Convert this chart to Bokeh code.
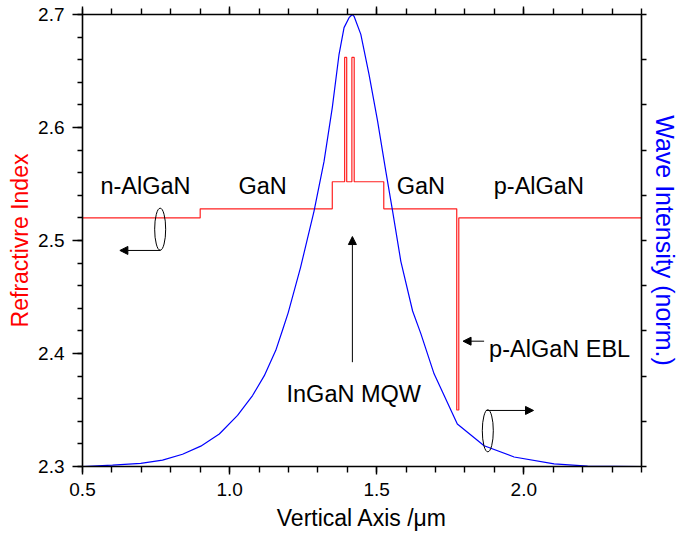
from bokeh.plotting import figure
from bokeh.models import (Range1d, LinearAxis, SingleIntervalTicker, FixedTicker,
                          NumeralTickFormatter, Arrow, NormalHead)
from bokeh.embed import file_html
from bokeh.resources import INLINE
from bokeh.core.properties import value

# ---------------- data ----------------
# refractive index layers: start, end, index
layer_start = [0.5, 0.9, 1.349, 1.391, 1.398, 1.4156, 1.4235, 1.524, 1.772, 1.779]
layer_end   = [0.9, 1.349, 1.391, 1.398, 1.4156, 1.4235, 1.524, 1.772, 1.779, 2.4]
layer_n     = [2.52, 2.528, 2.552, 2.662, 2.552, 2.662, 2.552, 2.528, 2.35, 2.52]

# normalized optical wave intensity
wave_x = [0.5, 0.602, 0.698, 0.772, 0.840, 0.902, 0.965, 1.027, 1.078, 1.118, 1.157,
          1.180, 1.199, 1.241, 1.287, 1.321, 1.349, 1.372, 1.389, 1.406, 1.417, 1.423,
          1.446, 1.474, 1.503, 1.531, 1.554, 1.582, 1.622, 1.650, 1.695, 1.774, 1.865,
          1.967, 2.103, 2.217, 2.4]
wave_i = [0.0, 0.003, 0.007, 0.014, 0.027, 0.045, 0.072, 0.113, 0.157, 0.201, 0.257,
          0.302, 0.340, 0.440, 0.565, 0.675, 0.794, 0.912, 0.971, 0.993, 1.0, 0.996,
          0.956, 0.867, 0.764, 0.653, 0.565, 0.454, 0.344, 0.294, 0.205, 0.094, 0.046,
          0.021, 0.006, 0.001, 0.0]

# region labels
region_text = ["n-AlGaN", "GaN", "GaN", "p-AlGaN"]
region_x = [0.714, 1.112, 1.650, 2.051]
region_y = [2.5478, 2.5478, 2.5478, 2.5478]

FONT = "Liberation Sans"

p = figure(width=681, height=543, x_range=Range1d(0.5, 2.4), y_range=Range1d(2.3, 2.7),
           output_backend="svg", toolbar_location=None,
           min_border_left=82, min_border_right=40, min_border_top=14, min_border_bottom=77)
p.extra_y_ranges = {"int": Range1d(0, 1)}
p.grid.visible = False
p.outline_line_color = None
p.background_fill_color = "white"
p.border_fill_color = "white"

# refractive index step profile
rx, ry = [], []
for s, e, n in zip(layer_start, layer_end, layer_n):
    rx += [s, e]
    ry += [n, n]
p.line(rx, ry, line_color="#ff2020", line_width=1.2)

# wave intensity
p.line(wave_x, wave_i, y_range_name="int", line_color="#0000ff", line_width=1.2)

# axes styling
def style(ax):
    ax.axis_line_width = 1.6
    ax.axis_line_color = "black"
    ax.major_tick_line_width = 1.4
    ax.minor_tick_line_width = 1.4
    ax.major_tick_in = 0
    ax.minor_tick_in = 0
    ax.major_label_text_font = FONT
    ax.major_label_text_font_size = "19px"
    ax.major_label_text_color = "black"
    ax.axis_label_text_font = FONT
    ax.axis_label_text_font_style = "normal"
    ax.axis_label_text_font_size = "23px"

def hide_labels(ax):
    ax.major_label_text_font_size = "0px"
    ax.major_label_text_color = None
    ax.major_label_standoff = 0

xa = p.xaxis[0]
xa.ticker = SingleIntervalTicker(interval=0.5, num_minor_ticks=5)
xa.formatter = NumeralTickFormatter(format="0.0")
style(xa)
xa.major_tick_out = 8
xa.minor_tick_out = 6
xa.axis_label = "Vertical Axis /\u03bcm"
xa.axis_label_text_color = "black"
xa.major_label_standoff = 8
xa.axis_label_standoff = 6

ya = p.yaxis[0]
ya.ticker = SingleIntervalTicker(interval=0.1, num_minor_ticks=5)
ya.formatter = NumeralTickFormatter(format="0.0")
style(ya)
ya.major_tick_out = 10
ya.minor_tick_out = 5
ya.axis_label = "Refractivre Index"
ya.axis_label_text_color = "red"
ya.major_label_standoff = 8
ya.axis_label_standoff = 2

top = LinearAxis(ticker=SingleIntervalTicker(interval=0.5, num_minor_ticks=5))
style(top)
top.major_tick_out = 8
top.minor_tick_out = 6
hide_labels(top)
p.add_layout(top, "above")

right = LinearAxis(y_range_name="int", ticker=FixedTicker(ticks=[i / 10 for i in range(11)]))
style(right)
right.major_tick_out = 5
hide_labels(right)
right.axis_label = "Wave Intensity (norm.)"
right.axis_label_text_color = "#0000ff"
right.axis_label_text_font_size = "25px"
right.axis_label_standoff = 4
p.add_layout(right, "right")

# region labels
p.text(x=region_x, y=region_y, text=region_text, text_font=value(FONT),
       text_font_size="23.5px", text_align="center", text_baseline="alphabetic",
       text_color="black")
p.text(x=[1.422], y=[2.3643], text=["InGaN MQW"], text_font=value(FONT),
       text_font_size="23.5px", text_align="center", text_baseline="alphabetic",
       text_color="black")
p.text(x=[1.882], y=[2.4042], text=["p-AlGaN EBL"], text_font=value(FONT),
       text_font_size="23.5px", text_align="left", text_baseline="alphabetic",
       text_color="black")

# arrows
def arrow(x0, y0, x1, y1):
    p.add_layout(Arrow(x_start=x0, y_start=y0, x_end=x1, y_end=y1,
                       line_color="black", line_width=1,
                       end=NormalHead(size=8, fill_color="black", line_color="black")))

arrow(1.4173, 2.3923, 1.4173, 2.5035)
arrow(1.865, 2.4109, 1.7935, 2.4109)
arrow(0.765, 2.4912, 0.627, 2.4912)
arrow(1.871, 2.3496, 2.033, 2.3496)

# axis-indicator ellipses
p.ellipse(x=[0.764, 1.8776], y=[2.51, 2.3316], width=11, height=42,
          width_units="screen", height_units="screen",
          fill_color=None, line_color="black", line_width=1)

open("out.html", "w").write(file_html(p, INLINE))
